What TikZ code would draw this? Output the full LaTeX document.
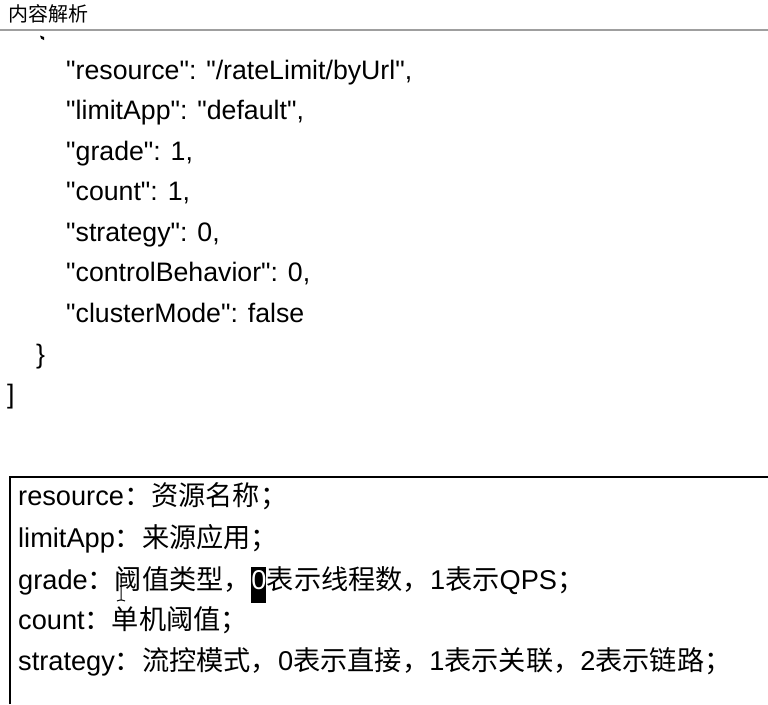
\documentclass[tikz,border=0pt]{standalone}
\usepackage{fontspec}
\setmainfont{Liberation Sans}[Ligatures=TeXOff]
\newfontfamily\cjk{Noto Sans CJK SC}
\tikzset{
  txt/.style={anchor=base west, inner sep=0pt, font=\fontsize{26.7}{27}\selectfont},
  desc/.style={anchor=base west, inner sep=0pt, font=\fontsize{27.2}{27}\selectfont},
  cjktitle/.style={anchor=base west, inner sep=0pt, font=\cjk\fontsize{20}{20}\selectfont},
  hilite/.style={anchor=base west, inner sep=0pt, fill=black, text=white, text height=22pt, text depth=14pt, font=\fontsize{27.2}{27}\selectfont},
}
\begin{document}
\begin{tikzpicture}[x=1pt,y=-1pt]
\useasboundingbox[fill=white] (0,0) rectangle (768,704);
\node[cjktitle] (title) at (8,21) {内容解析};
\draw[line width=2pt, gray!75] (0,30) coordinate (hl) -- (768,30) coordinate (hr);
\fill (40,35.5) -- (44,37) -- (44,40) -- (41,38.5) -- cycle;
\node[txt] (j1) at (66,79) {"resource": "/rateLimit/byUrl",};
\node[txt] (j2) at (66,119.5) {"limitApp": "default",};
\node[txt] (j3) at (66,160) {"grade": 1,};
\node[txt] (j4) at (66,200.5) {"count": 1,};
\node[txt] (j5) at (66,241) {"strategy": 0,};
\node[txt] (j6) at (66,281.5) {"controlBehavior": 0,};
\node[txt] (j7) at (66,322) {"clusterMode": false};
\node[txt] (cb) at (36,363) {\}};
\node[txt] (sb) at (7,403) {]};
\draw[line width=1.6pt] (10,704) coordinate (bl) -- (10,477) coordinate (tl) -- (768,477) coordinate (tr);
\node[desc] (d1) at (18,505) {resource{\cjk ：资源名称；}};
\node[desc] (d2) at (18,547) {limitApp{\cjk ：来源应用；}};
\node[desc] (d3a) at (18,589) {grade{\cjk ：阈值类型，}};
\node[hilite] (zero) at (d3a.base east) {0};
\node[desc] (d3b) at (zero.base east) {{\cjk 表示线程数，}1{\cjk 表示}QPS{\cjk ；}};
\node[desc] (d4) at (18,629) {count{\cjk ：单机阈值；}};
\node[desc] (d5) at (18,670) {strategy{\cjk ：流控模式，}0{\cjk 表示直接，}1{\cjk 表示关联，}2{\cjk 表示链路；}};
\draw[line width=1pt] (121,574) -- (121,600) (117,573) -- (120,574) -- (122,574) -- (125,573) (117,601) -- (120,600) -- (122,600) -- (125,601);
\end{tikzpicture}
\end{document}
